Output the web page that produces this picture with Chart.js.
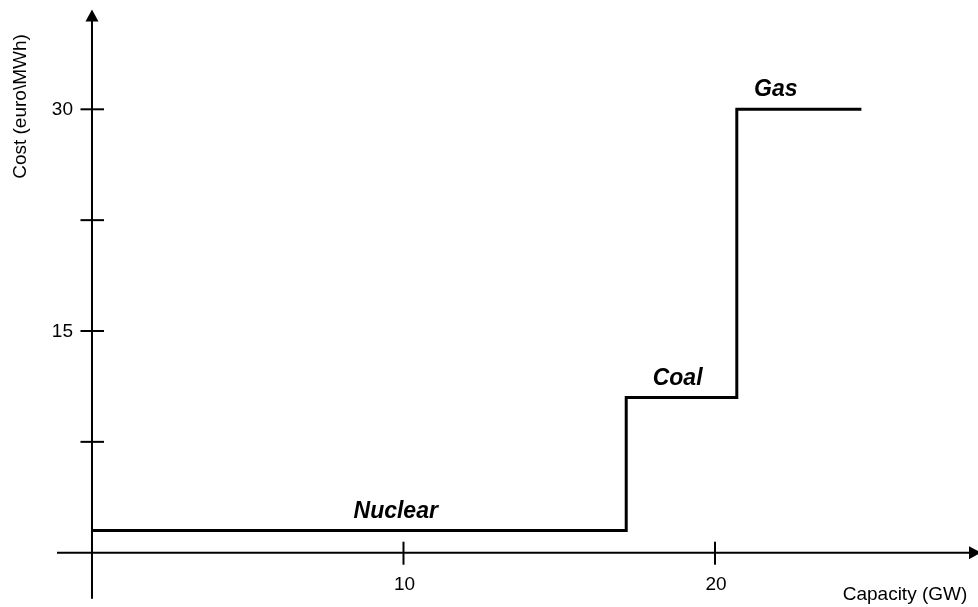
<!DOCTYPE html>
<html>
<head>
<meta charset="utf-8">
<script src="https://cdn.jsdelivr.net/npm/chart.js@4/dist/chart.umd.min.js"></script>
<style>
  html, body { margin: 0; padding: 0; background: #fff; }
  #wrap { width: 978px; height: 607px; position: relative; }
</style>
</head>
<body>
<div id="wrap"><canvas id="c"></canvas></div>
<script>
// ---- data ----
const technologies = ['Nuclear', 'Coal', 'Gas'];
const capacityFrom = [0, 17.15, 20.7];      // GW
const capacityTo   = [17.15, 20.7, 24.7];   // GW
const costValues   = [1.5, 10.5, 30];       // euro/MWh
const labelCapacity = [9.75, 18.8, 21.95];  // where each technology name sits (GW)
const xTickValues = [10, 20];
const xTickLabels = ['10', '20'];
const yTickValues = [7.5, 15, 22.5, 30];
const yTickLabels = ['', '15', '', '30'];
const xAxisTitle = 'Capacity (GW)';
const yAxisTitle = 'Cost (euro\\MWh)';

// ---- build merit-order step points ----
const points = [];
for (let i = 0; i < technologies.length; i++) {
  points.push({ x: capacityFrom[i], y: costValues[i] });
  points.push({ x: capacityTo[i], y: costValues[i] });
}

const FONT = '"Liberation Sans", Arial, Helvetica, sans-serif';

const axesPlugin = {
  id: 'arrowAxes',
  afterDatasetsDraw(chart) {
    const ctx = chart.ctx;
    const xs = chart.scales.x, ys = chart.scales.y;
    const x0 = xs.getPixelForValue(0), y0 = ys.getPixelForValue(0);
    ctx.save();
    ctx.strokeStyle = '#000';
    ctx.fillStyle = '#000';
    ctx.lineWidth = 2;
    ctx.lineCap = 'butt';
    // x axis
    const xEnd = 981;
    ctx.beginPath();
    ctx.moveTo(x0 - 35, y0);
    ctx.lineTo(xEnd - 10, y0);
    ctx.stroke();
    ctx.beginPath();
    ctx.moveTo(xEnd, y0);
    ctx.lineTo(xEnd - 12, y0 - 6.5);
    ctx.lineTo(xEnd - 12, y0 + 6.5);
    ctx.closePath();
    ctx.fill();
    // y axis
    const yTop = 9.5;
    ctx.beginPath();
    ctx.moveTo(x0, y0 + 46);
    ctx.lineTo(x0, yTop + 10);
    ctx.stroke();
    ctx.beginPath();
    ctx.moveTo(x0, yTop);
    ctx.lineTo(x0 - 6.5, yTop + 12);
    ctx.lineTo(x0 + 6.5, yTop + 12);
    ctx.closePath();
    ctx.fill();
    // x ticks
    ctx.font = '19px ' + FONT;
    ctx.textAlign = 'center';
    ctx.textBaseline = 'alphabetic';
    xTickValues.forEach((v, i) => {
      const px = xs.getPixelForValue(v);
      ctx.beginPath();
      ctx.moveTo(px, y0 - 11);
      ctx.lineTo(px, y0 + 12);
      ctx.stroke();
      ctx.fillText(xTickLabels[i], px + 1, 590);
    });
    // y ticks
    ctx.textAlign = 'right';
    yTickValues.forEach((v, i) => {
      const py = ys.getPixelForValue(v);
      ctx.beginPath();
      ctx.moveTo(x0 - 11.5, py);
      ctx.lineTo(x0 + 12, py);
      ctx.stroke();
      if (yTickLabels[i]) ctx.fillText(yTickLabels[i], x0 - 19, py + 6);
    });
    // axis titles
    ctx.textAlign = 'center';
    ctx.fillText(xAxisTitle, 905, 600);
    ctx.save();
    ctx.translate(26, 106.5);
    ctx.rotate(-Math.PI / 2);
    ctx.fillText(yAxisTitle, 0, 0);
    ctx.restore();
    // technology labels
    ctx.font = 'italic bold 23px ' + FONT;
    technologies.forEach((t, i) => {
      const px = xs.getPixelForValue(labelCapacity[i]);
      const py = ys.getPixelForValue(costValues[i]);
      ctx.fillText(t, px, py - 13);
    });
    ctx.restore();
  }
};

new Chart(document.getElementById('c'), {
  type: 'line',
  data: {
    datasets: [{
      data: points,
      borderColor: '#000',
      borderWidth: 3,
      borderCapStyle: 'butt',
      borderJoinStyle: 'miter',
      pointRadius: 0,
      fill: false,
      tension: 0
    }]
  },
  options: {
    responsive: true,
    maintainAspectRatio: false,
    animation: false,
    layout: { padding: 0 },
    plugins: { legend: { display: false }, tooltip: { enabled: false } },
    scales: {
      x: { type: 'linear', display: false, min: -2.953, max: 28.443 },
      y: { type: 'linear', display: false, min: -3.674, max: 37.395 }
    }
  },
  plugins: [axesPlugin]
});
</script>
</body>
</html>
